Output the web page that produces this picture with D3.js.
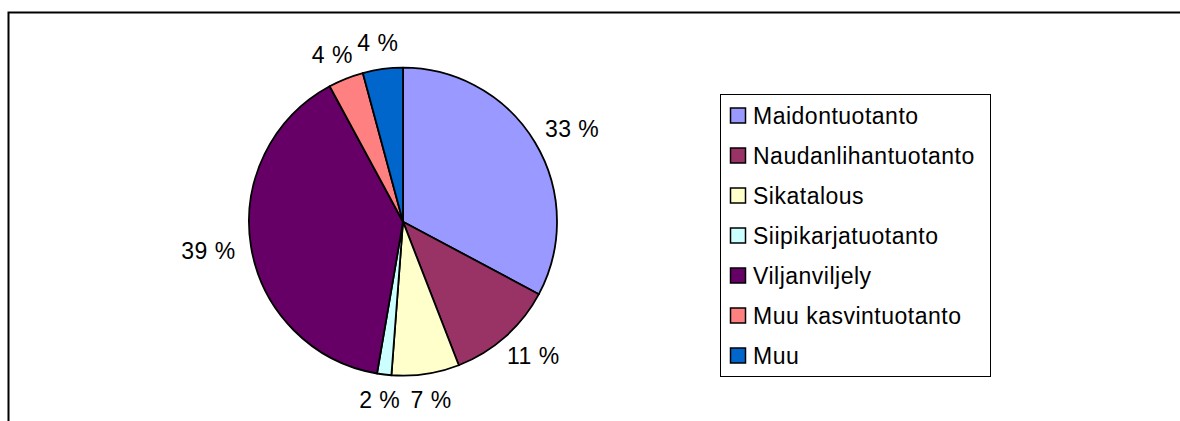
<!DOCTYPE html>
<html>
<head>
<meta charset="utf-8">
<script src="https://cdn.jsdelivr.net/npm/d3@7"></script>
<style>
  body { margin: 0; background: #fff; }
  text { font-family: "Liberation Sans", Arial, sans-serif; fill: #000; }
</style>
</head>
<body>
<div class="chart"></div>
<script>
var svgWidth = 1180;
var svgHeight = 421;

// data
var categories = ["Maidontuotanto", "Naudanlihantuotanto", "Sikatalous", "Siipikarjatuotanto",
    "Viljanviljely", "Muu kasvintuotanto", "Muu"];
var shares = [32.8, 11.3, 7.1, 1.5, 39.4, 3.7, 4.2];
var colors = ["#9999FF", "#993366", "#FFFFCC", "#CCFFFF", "#660066", "#FF8080", "#0066CC"];

var cx = 403, cy = 221.7, radius = 154;

var svg = d3.select(".chart")
    .append("svg")
    .attr("width", svgWidth)
    .attr("height", svgHeight);

// chart area frame (runs off the right and bottom)
svg.append("rect")
    .attr("x", 8.5)
    .attr("y", 12.5)
    .attr("width", 1200)
    .attr("height", 450)
    .attr("fill", "#fff")
    .attr("stroke", "#000")
    .attr("stroke-width", 2);

var data = categories.map((c, i) => ({ name: c, value: shares[i], color: colors[i] }));

var pie = d3.pie()
    .sort(null)
    .value(d => d.value);

var arcs = pie(data);

var arc = d3.arc()
    .innerRadius(0)
    .outerRadius(radius);

var pieGroup = svg.append("g")
    .attr("transform", `translate(${cx}, ${cy})`);

pieGroup.selectAll("path")
    .data(arcs)
    .enter()
    .append("path")
    .attr("d", arc)
    .attr("fill", d => d.data.color)
    .attr("stroke", "#000")
    .attr("stroke-width", 1.8)
    .attr("stroke-linejoin", "round");

// percentage labels outside the slices
var labelR = radius + 16;
var labels = pieGroup.selectAll("text.pct")
    .data(arcs)
    .enter()
    .append("text")
    .attr("class", "pct")
    .style("font-size", "23px")
    .style("letter-spacing", "0.5px")
    .attr("text-anchor", "middle")
    .attr("dy", "0.35em")
    .text(d => Math.round(d.data.value) + " %");

labels.each(function(d) {
    var a = (d.startAngle + d.endAngle) / 2;
    var bb = this.getBBox();
    var px = labelR * Math.sin(a) + bb.width / 2 * Math.sin(a);
    var py = -labelR * Math.cos(a) - 10 * Math.cos(a);
    d3.select(this).attr("x", px).attr("y", py);
});

// legend
var legendBox = { x: 720.5, y: 94.5, w: 270, h: 282 };

svg.append("rect")
    .attr("x", legendBox.x)
    .attr("y", legendBox.y)
    .attr("width", legendBox.w)
    .attr("height", legendBox.h)
    .attr("fill", "#fff")
    .attr("stroke", "#000")
    .attr("stroke-width", 1);

var rowScale = d3.scalePoint()
    .domain(categories)
    .range([115.5, 355.5]);

var rows = svg.selectAll("g.legend")
    .data(data)
    .enter()
    .append("g")
    .attr("class", "legend")
    .attr("transform", d => `translate(730, ${rowScale(d.name)})`);

rows.append("rect")
    .attr("x", 0.5)
    .attr("y", -7.5)
    .attr("width", 15)
    .attr("height", 15)
    .attr("fill", d => d.color)
    .attr("stroke", "#000")
    .attr("stroke-width", 1.5);

rows.append("text")
    .attr("x", 23)
    .attr("dy", "0.35em")
    .style("font-size", "23px")
    .style("letter-spacing", "0.5px")
    .text(d => d.name);
</script>
</body>
</html>
